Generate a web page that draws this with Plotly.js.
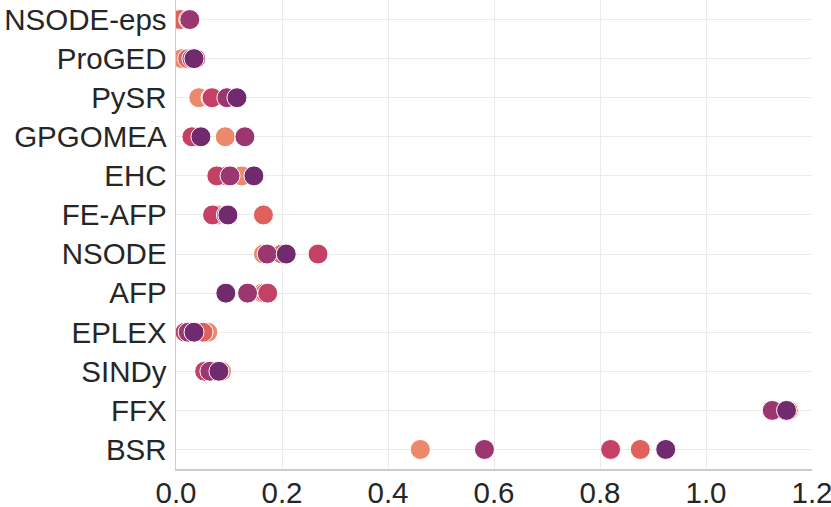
<!DOCTYPE html>
<html>
<head>
<meta charset="utf-8">
<script src="https://cdn.plot.ly/plotly-3.0.1.min.js"></script>
<style>
  html, body { margin: 0; padding: 0; background: #fff; }
  #chart { width: 831px; height: 507px; }
</style>
</head>
<body>
<div id="chart"></div>
<script>
const methods = ["NSODE-eps", "ProGED", "PySR", "GPGOMEA", "EHC", "FE-AFP",
  "NSODE", "AFP", "EPLEX", "SINDy", "FFX", "BSR"];

// one array per hue level, same order as methods
const s1 = [0.003, 0.011, 0.043, 0.093, 0.124, 0.081, 0.165, 0.163, 0.060, 0.086, 1.157, 0.461];
const s2 = [0.008, 0.022, 0.066, 0.040, 0.095, 0.165, 0.200, 0.168, 0.051, 0.075, 1.155, 0.876];
const s3 = [0.024, 0.030, 0.068, 0.030, 0.077, 0.069, 0.268, 0.173, 0.017, 0.054, 1.150, 0.820];
const s4 = [0.026, 0.037, 0.096, 0.130, 0.102, 0.095, 0.172, 0.135, 0.023, 0.064, 1.125, 0.582];
const s5 = [null, 0.034, 0.115, 0.047, 0.147, 0.098, 0.208, 0.094, 0.034, 0.081, 1.152, 0.924];

const series = [s1, s2, s3, s4, s5];
const colors = ["#eb896a", "#e0605c", "#c44065", "#9c3670", "#722a6e"];

const traces = series.map((vals, i) => ({
  x: vals,
  y: methods,
  type: 'scatter',
  mode: 'markers',
  marker: { size: 20, color: colors[i], line: { color: '#ffffff', width: 1 } },
  showlegend: false,
  hoverinfo: 'x+y'
}));

const font = { family: 'Liberation Sans, Arial, sans-serif', size: 29.5, color: '#262626' };

Plotly.newPlot('chart', traces, {
  width: 831,
  height: 507,
  margin: { l: 176, r: 19, t: 0, b: 38 },
  paper_bgcolor: '#ffffff',
  plot_bgcolor: '#ffffff',
  font: font,
  xaxis: {
    range: [0, 1.2],
    tickvals: [0, 0.2, 0.4, 0.6, 0.8, 1.0, 1.2],
    ticktext: ["0.0", "0.2", "0.4", "0.6", "0.8", "1.0", "1.2"],
    showgrid: true,
    gridcolor: '#ebebeb',
    gridwidth: 1,
    zeroline: false,
    showline: true,
    linecolor: '#cccccc',
    linewidth: 1.5,
    ticks: '',
    ticklabelstandoff: -3,
    ticklabeloverflow: 'allow',
    tickfont: font
  },
  yaxis: {
    type: 'category',
    categoryorder: 'array',
    categoryarray: methods,
    autorange: false,
    range: [11.5, -0.5],
    showgrid: true,
    gridcolor: '#ebebeb',
    gridwidth: 1,
    zeroline: false,
    showline: true,
    linecolor: '#cccccc',
    linewidth: 1.5,
    ticks: '',
    ticklabelstandoff: 2,
    tickfont: font
  }
}, { displayModeBar: false, staticPlot: true });
</script>
</body>
</html>
